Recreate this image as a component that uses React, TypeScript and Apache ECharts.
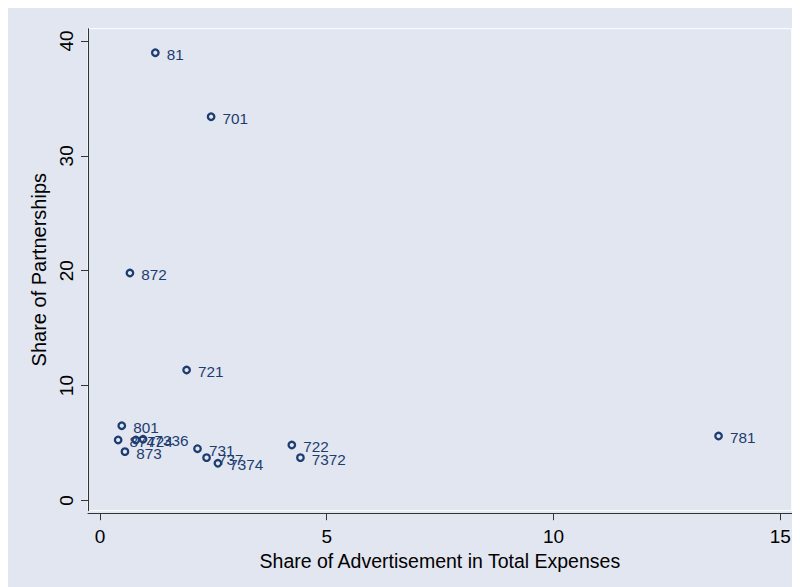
import React, { useEffect, useRef } from "react";
import * as echarts from "echarts";

const labels = ["81", "701", "872", "721", "801", "874", "724", "7336", "873", "731", "737", "7374", "722", "7372", "781"];
const adShare = [1.22, 2.45, 0.66, 1.91, 0.48, 0.4, 0.79, 0.95, 0.55, 2.15, 2.35, 2.6, 4.23, 4.42, 13.64];
const partnerShare = [38.98, 33.41, 19.8, 11.36, 6.51, 5.27, 5.27, 5.33, 4.25, 4.51, 3.73, 3.24, 4.83, 3.73, 5.61];
const xTicks = [0, 5, 10, 15];
const yTicks = [0, 10, 20, 30, 40];

const BG = "#E1E6F0";
const NAVY = "#1d3c70";
const FONT = "Liberation Sans, Arial, sans-serif";

export default function App() {
  const ref = useRef<HTMLDivElement>(null);
  useEffect(() => {
    if (!ref.current) return;
    const chart = echarts.init(ref.current, undefined, { renderer: "svg" });
    const data = adShare.map((x, i) => [x, partnerShare[i], labels[i]]);
    chart.setOption({
      animation: false,
      backgroundColor: BG,
      textStyle: { fontFamily: FONT },
      grid: {
        left: 80,
        right: 16.3,
        top: 20.7,
        bottom: 84.3,
        show: true,
        borderColor: "#ffffff",
        borderWidth: 1,
        backgroundColor: "transparent",
      },
      xAxis: {
        type: "value",
        min: -0.2646,
        max: 15.253,
        offset: 2.5,
        name: "Share of Advertisement in Total Expenses",
        nameLocation: "middle",
        nameGap: 34,
        nameTextStyle: { fontSize: 19.5, color: "#000", fontFamily: FONT },
        axisLine: { show: true, onZero: false, lineStyle: { color: "#333", width: 1 } },
        axisTick: { show: true, length: 7, customValues: xTicks, lineStyle: { color: "#333" } },
        axisLabel: { customValues: xTicks, fontSize: 19, color: "#000", margin: 14, fontFamily: FONT },
        splitLine: { show: false },
      },
      yAxis: {
        type: "value",
        min: -0.888,
        max: 41.07,
        name: "Share of Partnerships",
        nameLocation: "middle",
        nameGap: 32,
        nameTextStyle: { fontSize: 20, color: "#000", fontFamily: FONT },
        axisLine: { show: true, onZero: false, lineStyle: { color: "#333", width: 1 } },
        axisTick: { show: true, length: 7, customValues: yTicks, lineStyle: { color: "#333" } },
        axisLabel: { customValues: yTicks, rotate: 90, fontSize: 19, color: "#000", margin: 12, fontFamily: FONT },
        splitLine: { show: false },
      },
      series: [
        {
          type: "scatter",
          data,
          symbol: "circle",
          symbolSize: 6.5,
          itemStyle: { color: BG, borderColor: NAVY, borderWidth: 2.3, opacity: 1 },
          label: {
            show: true,
            position: "right",
            distance: 7,
            offset: [0, 1.5],
            formatter: (p: any) => p.value[2],
            fontSize: 15.3,
            color: NAVY,
            fontFamily: FONT,
          },
          emphasis: { disabled: true },
        },
      ],
    });
    return () => chart.dispose();
  }, []);
  return <div ref={ref} style={{ width: 800, height: 587 }} />;
}
